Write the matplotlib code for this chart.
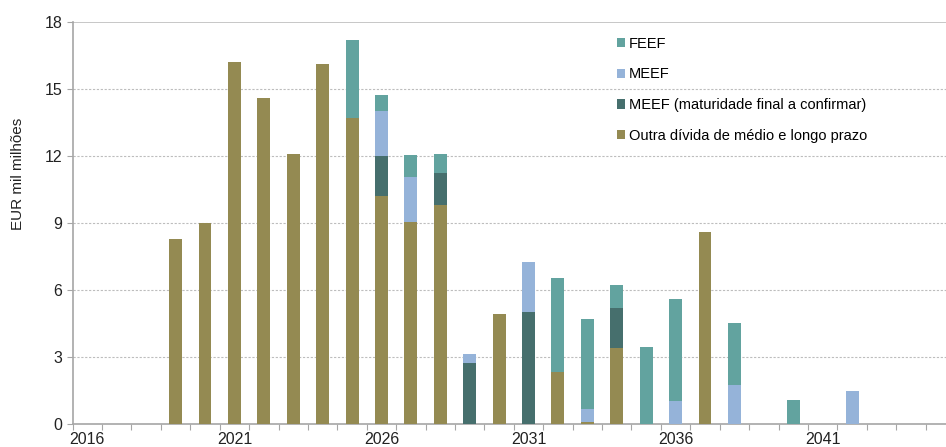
import numpy as np
import matplotlib.pyplot as plt

plt.rcParams['font.family'] = ['Liberation Sans', 'DejaVu Sans']

# years on the category axis
years = list(range(2016, 2046))
# values in EUR mil milhoes
outra = [0, 0, 0, 8.3, 9.0, 16.2, 14.6, 12.1, 16.1, 13.7, 10.2, 9.05, 9.8, 0, 4.93,
         0, 2.34, 0.07, 3.4, 0, 0, 8.58, 0, 0, 0, 0, 0, 0, 0, 0]
meef_mat = [0, 0, 0, 0, 0, 0, 0, 0, 0, 0, 1.8, 0, 1.45, 2.72, 0,
            5.0, 0, 0, 1.8, 0, 0, 0, 0, 0, 0, 0, 0, 0, 0, 0]
meef = [0, 0, 0, 0, 0, 0, 0, 0, 0, 0, 2.0, 2.0, 0, 0.4, 0,
        2.27, 0, 0.6, 0, 0, 1.03, 0, 1.75, 0, 0, 0, 1.48, 0, 0, 0]
feef = [0, 0, 0, 0, 0, 0, 0, 0, 0, 3.5, 0.75, 1.0, 0.82, 0, 0,
        0, 4.2, 4.03, 1.02, 3.43, 4.57, 0, 2.79, 0, 1.07, 0, 0, 0, 0, 0]

c_outra = '#948A52'
c_mat = '#466F6D'
c_meef = '#95B3D9'
c_feef = '#62A39F'

x = np.arange(len(years))
outra = np.array(outra)
meef_mat = np.array(meef_mat)
meef = np.array(meef)
feef = np.array(feef)

fig = plt.figure(figsize=(9.46, 4.47), dpi=100)
ax = fig.add_axes([0.0768, 0.0515, 0.9327, 0.8993])

w = 0.44
b1 = ax.bar(x, outra, w, color=c_outra, label='Outra dívida de médio e longo prazo', zorder=3)
b2 = ax.bar(x, meef_mat, w, bottom=outra, color=c_mat, label='MEEF (maturidade final a confirmar)', zorder=3)
b3 = ax.bar(x, meef, w, bottom=outra + meef_mat, color=c_meef, label='MEEF', zorder=3)
b4 = ax.bar(x, feef, w, bottom=outra + meef_mat + meef, color=c_feef, label='FEEF', zorder=3)

ax.set_xlim(-0.5, len(years) - 0.5)
ax.set_ylim(0, 18)
ax.set_yticks(np.arange(0, 19, 3))
for v in range(3, 18, 3):
    ax.axhline(v, color='#BDBDBD', lw=0.8, ls=(0, (2, 1.5)), zorder=1)
ax.axhline(18, color='#BDBDBD', lw=1.2, zorder=1)

# ticks between categories, labels every 5 years
ax.set_xticks(np.arange(-0.5, len(years), 1))
ax.set_xticklabels([])
ax.set_xticks(x[::5], minor=True)
ax.set_xticklabels([str(y) for y in years[::5]], minor=True)
ax.tick_params(axis='x', which='major', length=4, color='#A6A6A6')
ax.tick_params(axis='x', which='minor', length=0, pad=6, labelsize=11.5, labelcolor='#222222')
ax.tick_params(axis='y', length=4, color='#A6A6A6', labelsize=11.5, labelcolor='#222222')

for s in ['top', 'right']:
    ax.spines[s].set_visible(False)
for s in ['left', 'bottom']:
    ax.spines[s].set_color('#A6A6A6')
    ax.spines[s].set_linewidth(1.2)

fig.text(0.019, 0.61, 'EUR mil milhões', rotation=90, ha='center', va='center',
         fontsize=11, color='#222222')

leg = ax.legend(handles=[b4, b3, b2, b1], loc='upper left', bbox_to_anchor=(0.6, 1.0),
                frameon=False, fontsize=10.5, handlelength=0.6, handleheight=0.6,
                handletextpad=0.25, labelspacing=1.15, borderaxespad=0.6)

plt.savefig('out.png', dpi=100)
